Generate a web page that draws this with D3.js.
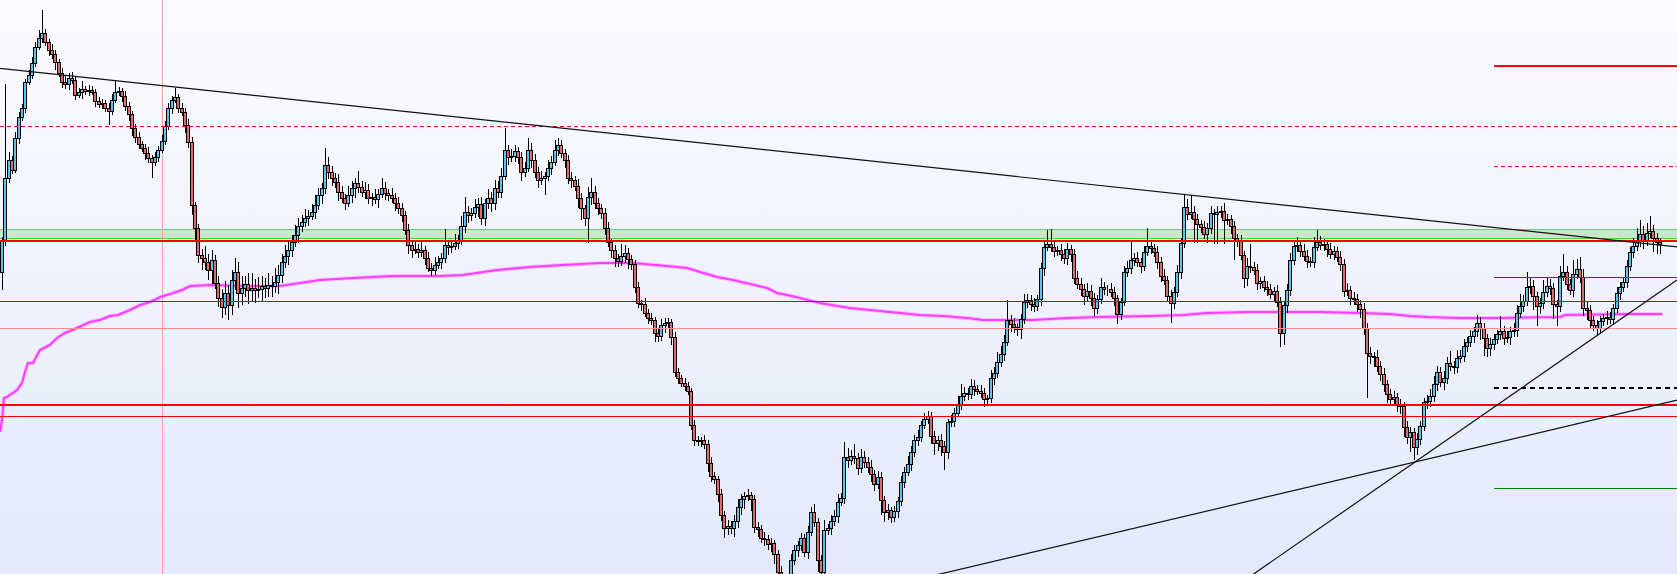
<!DOCTYPE html>
<html><head><meta charset="utf-8">
<script src="https://cdn.jsdelivr.net/npm/d3@7"></script>
<style>html,body{margin:0;padding:0;overflow:hidden;background:#fff}svg{display:block}</style>
</head><body><svg id="chart" width="1677" height="574"></svg>
<script>
// ---------------- DATA (prices in chart points) ----------------
const firstOpen = 328;
const closes = [
360,422,440,430,462,483,492,518,525,537,
553,562,567,558,550,546,538,527,518,516,
522,520,505,508,511,509,510,508,499,496,
497,492,489,500,508,509,504,494,486,472,
463,456,452,447,442,438,443,450,459,474,
492,500,503,492,488,475,458,395,372,345,
342,338,330,340,317,302,293,307,295,320,
328,307,312,316,310,312,310,311,314,312,
315,314,318,325,338,344,350,358,365,374,
378,382,384,388,395,405,412,435,428,422,
418,408,402,397,405,412,417,413,408,410,
402,403,401,406,412,407,405,402,397,392,
385,370,355,350,351,348,350,342,332,330,
335,338,342,355,353,354,357,360,374,388,
385,387,393,396,382,397,402,397,412,408,
424,450,443,444,449,443,428,432,450,440,
428,420,422,424,432,438,450,455,447,440,
422,420,414,402,392,382,403,408,397,392,
387,372,358,350,342,339,344,347,341,336,
313,297,296,287,282,280,267,264,275,277,
278,263,228,222,217,214,209,175,160,159,
160,156,137,124,121,106,85,72,74,72,
79,93,101,104,105,101,73,71,62,61,
56,57,46,28,20,12,17,40,50,55,
62,48,68,88,78,40,28,70,72,79,
84,98,102,143,140,144,142,132,143,138,
133,126,116,123,100,88,90,83,89,99,
118,128,136,148,160,163,175,181,184,164,
157,160,154,148,178,179,187,196,204,207,
206,214,211,209,207,201,202,222,227,238,
246,258,280,276,273,271,281,298,300,296,
294,301,332,353,356,353,349,350,346,342,
351,346,322,316,311,304,309,302,292,301,
313,311,311,308,302,286,298,328,332,340,
342,338,334,348,354,352,348,338,324,320,
304,297,308,328,357,393,386,388,381,376,
373,366,372,387,386,388,389,380,381,374,
362,359,345,322,334,333,330,317,319,313,
311,306,309,298,267,295,310,340,354,355,
349,344,339,338,353,358,355,356,351,346,
349,343,336,309,310,302,301,296,291,272,
247,244,243,234,226,216,206,201,203,196,
194,173,163,168,153,161,174,198,199,204,
216,228,218,222,237,234,233,242,244,254,
258,264,269,277,272,262,252,256,261,266,
269,262,263,269,270,287,294,299,313,314,
304,294,297,308,314,312,296,294,324,328,
316,310,326,331,323,292,290,280,275,272,
279,282,283,281,292,307,313,318,334,348,
354,360,366,360,367,369,362,358,356
];
const upperWicks = [
3,94,8,4,6,5,4,3,5,6,
5,8,23,4,3,6,4,3,5,7,
5,6,3,4,8,3,5,4,3,4,
4,3,5,6,12,4,3,5,4,3,
4,5,3,4,6,3,5,4,6,5,
5,4,9,3,5,4,6,5,3,4,
6,12,8,10,5,7,9,12,8,10,
14,10,12,8,11,15,9,12,10,8,
12,9,14,10,8,11,9,7,10,8,
7,9,6,8,10,7,5,17,8,6,
5,8,6,4,9,7,5,12,6,8,
6,4,8,5,10,6,4,7,5,6,
5,4,6,3,7,5,8,4,6,5,
8,6,5,16,4,6,9,5,10,15,
6,5,8,6,7,4,9,6,8,7,
8,22,5,7,6,4,5,6,12,7,
6,5,7,4,8,6,10,7,5,4,
5,6,4,7,5,3,10,14,6,5,
4,5,6,3,5,4,12,8,5,4,
4,5,3,6,4,5,3,4,6,5,
4,3,5,4,3,5,4,3,5,4,
3,5,4,6,4,3,5,4,6,5,
6,8,5,4,6,3,4,5,4,6,
4,5,3,4,6,5,4,6,5,4,
5,4,6,5,8,4,5,10,4,6,
6,8,5,15,9,6,12,5,8,6,
5,7,4,6,5,4,6,3,5,4,
6,5,8,6,5,7,4,6,5,4,
5,4,6,5,3,6,5,8,12,6,
5,7,6,4,6,5,3,8,6,10,
8,7,20,5,6,4,5,8,6,5,
6,4,5,6,14,15,5,4,6,5,
6,4,5,7,6,5,8,6,5,4,
9,5,4,6,5,3,4,6,7,20,
5,6,4,6,18,5,4,6,5,7,
4,6,5,7,5,12,8,17,6,5,
4,6,5,7,4,6,5,8,5,4,
5,4,6,4,8,22,5,6,4,5,
6,5,4,6,5,4,6,7,5,8,
5,7,6,4,10,12,6,5,4,6,
5,4,6,5,7,4,6,5,4,6,
5,6,4,7,5,6,4,5,6,4,
5,4,6,5,4,6,5,4,6,7,
8,6,5,7,6,12,5,8,6,7,
5,6,4,8,6,5,4,6,5,4,
15,5,6,4,7,8,12,6,15,8,
6,4,5,12,8,7,5,4,10,18,
6,5,14,10,12,8,6,5,4,5,
5,4,6,5,4,6,5,4,6,5,
8,12,14,8,10,15,6,5,4
];
const lowerWicks = [
18,6,5,4,3,6,4,5,3,4,
4,3,5,4,6,5,8,4,6,5,
6,4,5,3,7,4,5,3,6,4,
5,4,14,4,3,4,6,5,7,8,
6,5,4,7,5,16,4,5,3,4,
4,6,3,5,4,8,6,10,12,8,
12,8,10,14,6,9,11,8,15,10,
10,15,12,9,14,11,13,8,12,10,
9,11,7,12,8,6,9,7,5,8,
6,5,8,4,7,5,9,6,7,8,
6,9,5,7,4,8,10,6,5,7,
6,8,5,9,4,7,6,5,8,6,
7,5,9,8,4,6,5,7,4,6,
5,4,7,5,8,6,4,6,5,7,
8,6,5,10,7,8,6,9,7,6,
6,4,8,5,6,7,9,5,4,8,
6,8,5,17,5,7,4,6,5,8,
6,8,5,10,12,8,25,8,6,7,
6,7,5,8,9,6,5,7,10,6,
6,5,7,4,6,5,9,6,5,8,
5,8,5,6,4,5,4,5,6,5,
6,5,9,6,5,8,6,10,7,6,
9,7,8,10,5,12,6,8,5,7,
6,8,10,8,8,8,8,6,5,7,
6,5,7,4,5,12,8,6,5,7,
5,7,4,6,8,5,6,7,5,6,
6,8,7,5,15,10,8,6,5,7,
5,6,4,7,5,6,5,4,5,8,
12,8,10,18,7,5,6,4,6,5,
6,5,7,4,5,8,6,5,7,5,
5,7,4,8,6,7,10,5,6,7,
6,5,7,8,4,5,6,5,7,6,
7,8,6,5,7,9,6,8,8,6,
5,6,7,5,8,10,6,4,5,6,
6,5,7,5,4,6,5,7,6,5,
5,20,6,5,7,5,6,5,24,19,
6,5,9,6,30,30,6,24,5,8,
22,6,5,10,8,6,5,7,6,5,
7,5,8,5,14,12,8,6,5,6,
6,5,7,5,6,4,5,6,8,5,
6,5,7,6,5,7,6,8,9,7,
45,8,10,6,7,8,9,6,7,8,
8,10,7,15,13,8,6,5,7,6,
6,7,5,8,6,5,7,6,5,6,
6,5,7,6,12,18,9,8,6,5,
6,7,5,8,6,7,5,6,5,7,
14,20,8,6,5,7,15,20,6,5,
6,5,7,5,6,8,10,8,6,8,
6,5,7,5,6,5,7,5,6,5,
6,5,7,9,6,5,14,12,10
];
// moving average (bar index, value)
const maIndex = [-0.6,0,0.6,1.5,4.5,6.0,6.9,7.8,9.3,11.4,14.4,16.5,18.9,22.5,26.4,29.4,32.4,34.8,38.4,41.5,44.5,47.5,51.4,54.1,56.5,62.5,73.6,83.5,95.5,105.4,117.5,131.6,138.5,148.7,158.6,168.5,179.6,189.5,199.8,205.8,209.7,214.8,219.6,224.7,229.8,232.8,235.8,239.7,245.7,254.7,263.7,269.7,275.8,282.7,289.9,294.7,309.7,319.9,329.8,344.8,354.8,362.0,374.0,395.9,407.9,416.9,422.9,428.1,437.9,450.0,468.0,469.5,489.0,498.7];
const maValues = [168,180,202,203,210,217,228,237,237,250,255,262,267,272,278,280,284,285,290,295,298,303,307,310,314,315,314,314,320,322,324,324,325,330,333,335,337,337,334,332,328,323,320,316,312,307,305,302,297,292,289,287,285,284,282,280,280,282,283,284,285,287,288,288,287,286,284,283,282,282,283,285,286,286];
// horizontal levels (price, start bar; null = from left edge)
const levelPrices   = [534.3, 473.7, 433.7, 359.0, 322.7, 298.7, 271.7, 212.3, 195.3, 183.7, 112.0];
const levelStartBar = [448,   null,  448,   null,  448,   null,  null,  448,   null,  null,  448];
// support/resistance zone
const zoneTop = 370.7, zoneBottom = 362.0;
// vertical marker bar
const markerBar = 48;
// trend lines: two anchor points each (bar index, price)
const trendStartBar   = [0,     424.4, 424.4];
const trendStartPrice = [531.5, 138.0, 138.0];
const trendEndBar     = [498,   498,   498];
const trendEndPrice   = [354.9, 195.8, 308.1];

// ---------------- DRAWING ----------------
const W = 1677, H = 574;
const svg = d3.select('#chart');
const x = d3.scaleLinear().domain([0, closes.length - 1]).range([2, 1660]);
const y = d3.scaleLinear().domain([26, 600]).range([H, 0]);

const defs = svg.append('defs');
const grad = defs.append('linearGradient').attr('id','bg').attr('x1',0).attr('y1',0).attr('x2',0).attr('y2',1);
grad.append('stop').attr('offset','0%').attr('stop-color','#fbfcff');
grad.append('stop').attr('offset','100%').attr('stop-color','#e3e9fb');
svg.append('rect').attr('width',W).attr('height',H).attr('fill','url(#bg)');

const crisp = v => Math.round(v) + 0.5;

// zone
const gZone = svg.append('g').attr('shape-rendering','crispEdges');
gZone.append('rect').attr('x',0).attr('width',W)
  .attr('y', Math.round(y(zoneTop))).attr('height', Math.round(y(zoneBottom)) - Math.round(y(zoneTop)))
  .attr('fill','#c3ecc6');
gZone.append('line').attr('x1',0).attr('x2',W).attr('y1',crisp(y(zoneTop))).attr('y2',crisp(y(zoneTop)))
  .attr('stroke','#e08a8a').attr('stroke-width',1);
gZone.append('line').attr('x1',0).attr('x2',W).attr('y1',crisp(y(zoneBottom))).attr('y2',crisp(y(zoneBottom)))
  .attr('stroke','#45d045').attr('stroke-width',1);

// vertical marker
svg.append('line').attr('x1',crisp(x(markerBar))).attr('x2',crisp(x(markerBar))).attr('y1',0).attr('y2',H)
  .attr('stroke','#f2a2a2').attr('stroke-width',1);

// moving average
const maData = maIndex.map((b,i)=>[b, maValues[i]]);
const maLine = d3.line().x(d=>x(d[0])).y(d=>y(d[1]));
svg.append('path').attr('d', maLine(maData)).attr('fill','none').attr('stroke','#ff9cff').attr('stroke-width',4).attr('opacity',0.6);
svg.append('path').attr('d', maLine(maData)).attr('fill','none').attr('stroke','#ff3cff').attr('stroke-width',2);

// candles
const candles = closes.map((c,i)=>{
  const o = i === 0 ? firstOpen : closes[i-1];
  return {i, o, c, h: Math.max(o,c) + (upperWicks[i]||0), l: Math.min(o,c) - (lowerWicks[i]||0)};
});
const gC = svg.append('g').attr('shape-rendering','crispEdges');
gC.selectAll('line.w').data(candles).join('line').attr('class','w')
  .attr('x1', d=>Math.round(x(d.i))+0.5).attr('x2', d=>Math.round(x(d.i))+0.5)
  .attr('y1', d=>y(d.h)).attr('y2', d=>y(d.l))
  .attr('stroke','#000').attr('stroke-width',1);
gC.selectAll('rect.b').data(candles).join('rect').attr('class','b')
  .attr('x', d=>Math.round(x(d.i))-1.5).attr('width',3)
  .attr('y', d=>Math.round(y(Math.max(d.o,d.c)))+0.5)
  .attr('height', d=>Math.max(0, Math.round(y(Math.min(d.o,d.c))) - Math.round(y(Math.max(d.o,d.c)))))
  .attr('fill', d=> d.c > d.o ? '#5cc4ec' : (d.c < d.o ? '#e46868' : '#000'))
  .attr('stroke','#000').attr('stroke-width',1);

// horizontal levels
const levelStyles = [
  {color:'#ff0000', w:2, dash:null},
  {color:'#ff0000', w:1, dash:'4,3'},
  {color:'#ff0000', w:1, dash:'4,3'},
  {color:'#ff0000', w:2, dash:null},
  {color:'#d80000', w:1, dash:null},
  {color:'#7a16b0', w:1, dash:null},
  {color:'#ff8c8c', w:1, dash:null},
  {color:'#000000', w:2, dash:'5,4'},
  {color:'#ff0000', w:2, dash:null},
  {color:'#ff0000', w:1, dash:null},
  {color:'#008800', w:1, dash:null}
];
const gL = svg.append('g').attr('shape-rendering','crispEdges');
levelPrices.forEach((p,k)=>{
  const st = levelStyles[k];
  const yy = st.w % 2 === 1 ? crisp(y(p)) : Math.round(y(p));
  const x1 = levelStartBar[k] === null ? 0 : Math.round(x(levelStartBar[k]));
  const ln = gL.append('line').attr('x1',x1).attr('x2',W).attr('y1',yy).attr('y2',yy)
    .attr('stroke',st.color).attr('stroke-width',st.w);
  if (st.dash) ln.attr('stroke-dasharray',st.dash);
});

// trend lines (extended to the chart edges)
const gT = svg.append('g');
trendStartBar.forEach((b,k)=>{
  const xa = x(b), ya = y(trendStartPrice[k]);
  const xb = x(trendEndBar[k]), yb = y(trendEndPrice[k]);
  const m = (yb - ya) / (xb - xa);
  gT.append('line').attr('x1',0).attr('y1', ya + m*(0 - xa))
    .attr('x2',W).attr('y2', ya + m*(W - xa))
    .attr('stroke','#111111').attr('stroke-width',1.2);
});
</script>
</body></html>
